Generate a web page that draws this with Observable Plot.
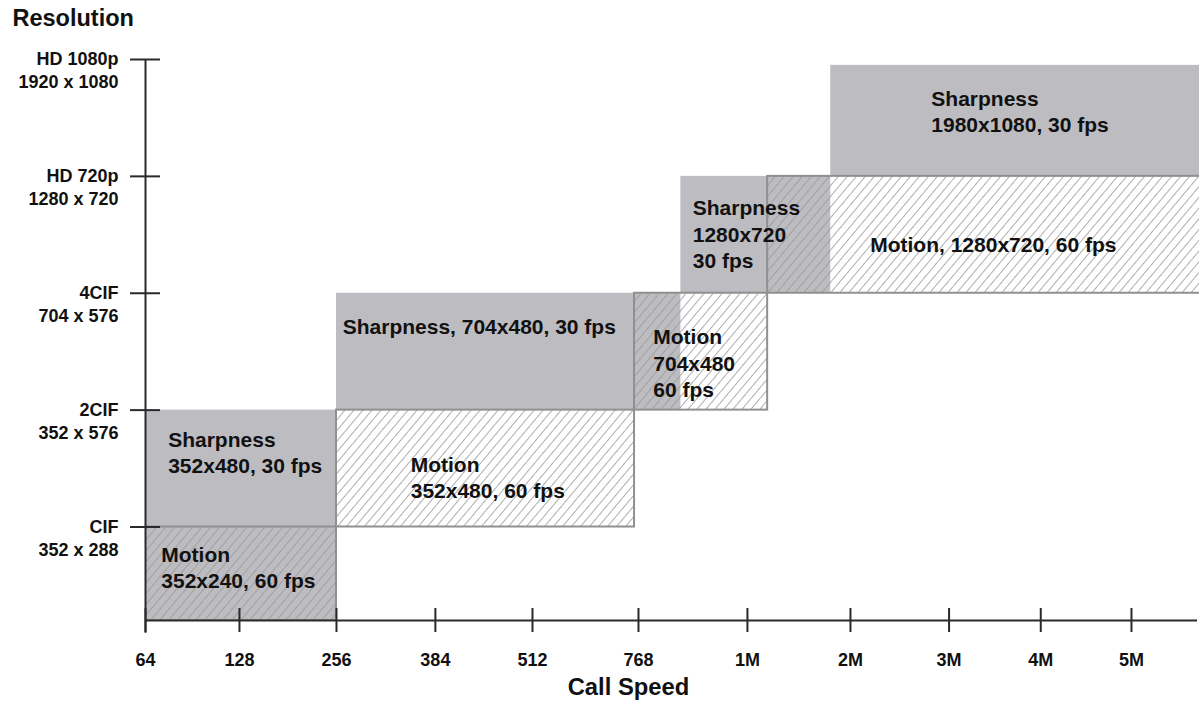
<!DOCTYPE html>
<html><head><meta charset="utf-8">
<script src="https://cdn.jsdelivr.net/npm/d3@7"></script>
<script src="https://cdn.jsdelivr.net/npm/@observablehq/plot@0.6"></script>
<style>body{margin:0;background:#fff;} svg{display:block}</style>
</head><body><div id="chart"></div>
<script>
// ---- data (x in relative call-speed units, y in resolution level units) ----
const speedTicks = ["64","128","256","384","512","768","1M","2M","3M","4M","5M"];
const speedPos = [0, 0.953, 1.937, 2.94, 3.925, 5.0, 6.105, 7.15, 8.15, 9.08, 10.0];
const resLevels = [1, 2, 3, 4, 5];
const resNames = ["CIF","2CIF","4CIF","HD 720p","HD 1080p"];
const resSizes = ["352 x 288","352 x 576","704 x 576","1280 x 720","1920 x 1080"];
const baseLevel = 0.2;
const xEnd = 10.69;

const sharpX1 = [0, 1.937, 5.43, 6.95];
const sharpX2 = [1.937, 5.43, 6.95, 10.8];
const sharpY1 = [0.2, 2, 3, 4];
const sharpY2 = [2, 3, 4, 4.95];

const motionX1 = [0, 1.937, 4.96, 6.31];
const motionX2 = [1.937, 4.96, 6.31, 10.9];
const motionY1 = [0.2, 1, 2, 3];
const motionY2 = [1, 2, 3, 4];

const labelText = [
  "Sharpness\n352x480, 30 fps",
  "Motion\n352x240, 60 fps",
  "Sharpness, 704x480, 30 fps",
  "Motion\n352x480, 60 fps",
  "Motion\n704x480\n60 fps",
  "Sharpness\n1280x720\n30 fps",
  "Motion, 1280x720, 60 fps",
  "Sharpness\n1980x1080, 30 fps"
];
const labelX = [0.23, 0.16, 2.0, 2.69, 5.15, 5.55, 7.35, 7.97];
const labelY = [1.645, 0.662, 2.726, 1.432, 2.41, 3.513, 3.427, 4.564];

// ---- tables built from arrays ----
const sharp = sharpX1.map((d, i) => ({x1: d, x2: sharpX2[i], y1: sharpY1[i], y2: sharpY2[i]}));
const motion = motionX1.map((d, i) => ({x1: d, x2: motionX2[i], y1: motionY1[i], y2: motionY2[i]}));
const labels = labelText.map((t, i) => ({text: t, x: labelX[i], y: labelY[i]}));
const res = resLevels.map((v, i) => ({v, name: resNames[i], size: resSizes[i]}));
const speeds = speedTicks.map((t, i) => ({p: speedPos[i], t}));

const font = "'Liberation Sans', Arial, Helvetica, sans-serif";
const ink = "#111";
const axisColor = "#2a2a2a";
const tx = 15 / 98.6, ty = 12 / 117;

const chart = Plot.plot({
  width: 1199, height: 704,
  marginLeft: 145, marginRight: 0, marginTop: 59, marginBottom: 84,
  x: {domain: [0, xEnd], axis: null},
  y: {domain: [baseLevel, 5], axis: null},
  style: {fontFamily: font, background: "#fff", overflow: "visible"},
  marks: [
    Plot.rect(sharp, {x1: "x1", x2: "x2", y1: "y1", y2: "y2", fill: "#bdbdc1", clip: true}),
    Plot.rect(motion, {x1: "x1", x2: "x2", y1: "y1", y2: "y2", fill: "url(#hatch)", stroke: "#909090", strokeWidth: 2, clip: true}),
    // axes lines
    Plot.ruleX([0], {y1: baseLevel - 0.11, y2: 5, stroke: axisColor, strokeWidth: 2}),
    Plot.ruleY([baseLevel], {x1: 0, x2: xEnd - 0.02, stroke: axisColor, strokeWidth: 2}),
    // crossing ticks
    Plot.ruleY(res, {y: "v", x1: -tx, x2: tx, stroke: axisColor, strokeWidth: 2}),
    Plot.ruleX(speeds, {x: "p", y1: baseLevel - ty, y2: baseLevel + ty, stroke: axisColor, strokeWidth: 2}),
    // tick labels
    Plot.text(res, {x: 0, y: "v", text: "name", textAnchor: "end", dx: -27, fontSize: 18, fontWeight: "bold", fill: ink}),
    Plot.text(res, {x: 0, y: "v", text: "size", textAnchor: "end", dx: -27, dy: 23, fontSize: 18, fontWeight: "bold", fill: ink}),
    Plot.text(speeds, {x: "p", y: baseLevel, text: "t", dy: 40, fontSize: 18, fontWeight: "bold", fill: ink}),
    // axis titles
    Plot.text(["Call Speed"], {frameAnchor: "bottom", lineAnchor: "middle", dx: -44, dy: 67, fontSize: 23.8, fontWeight: "bold", fill: ink}),
    Plot.text(["Resolution"], {frameAnchor: "top-left", textAnchor: "start", lineAnchor: "middle", dx: -133, dy: -41, fontSize: 23.5, fontWeight: "bold", fill: ink}),
    // region labels
    Plot.text(labels, {x: "x", y: "y", text: "text", textAnchor: "start", lineAnchor: "middle", lineHeight: 1.25, fontSize: 21, fontWeight: "bold", fill: ink})
  ]
});

const defs = d3.select(chart).insert("defs", ":first-child");
const pat = defs.append("pattern").attr("id", "hatch")
  .attr("patternUnits", "userSpaceOnUse").attr("width", 6.9).attr("height", 6.9)
  .attr("patternTransform", "rotate(40)");
pat.append("line").attr("x1", 3.45).attr("y1", -1).attr("x2", 3.45).attr("y2", 7.9)
  .attr("stroke", "#9a9a9a").attr("stroke-width", 0.8);

document.getElementById("chart").appendChild(chart);
</script>
</body></html>
